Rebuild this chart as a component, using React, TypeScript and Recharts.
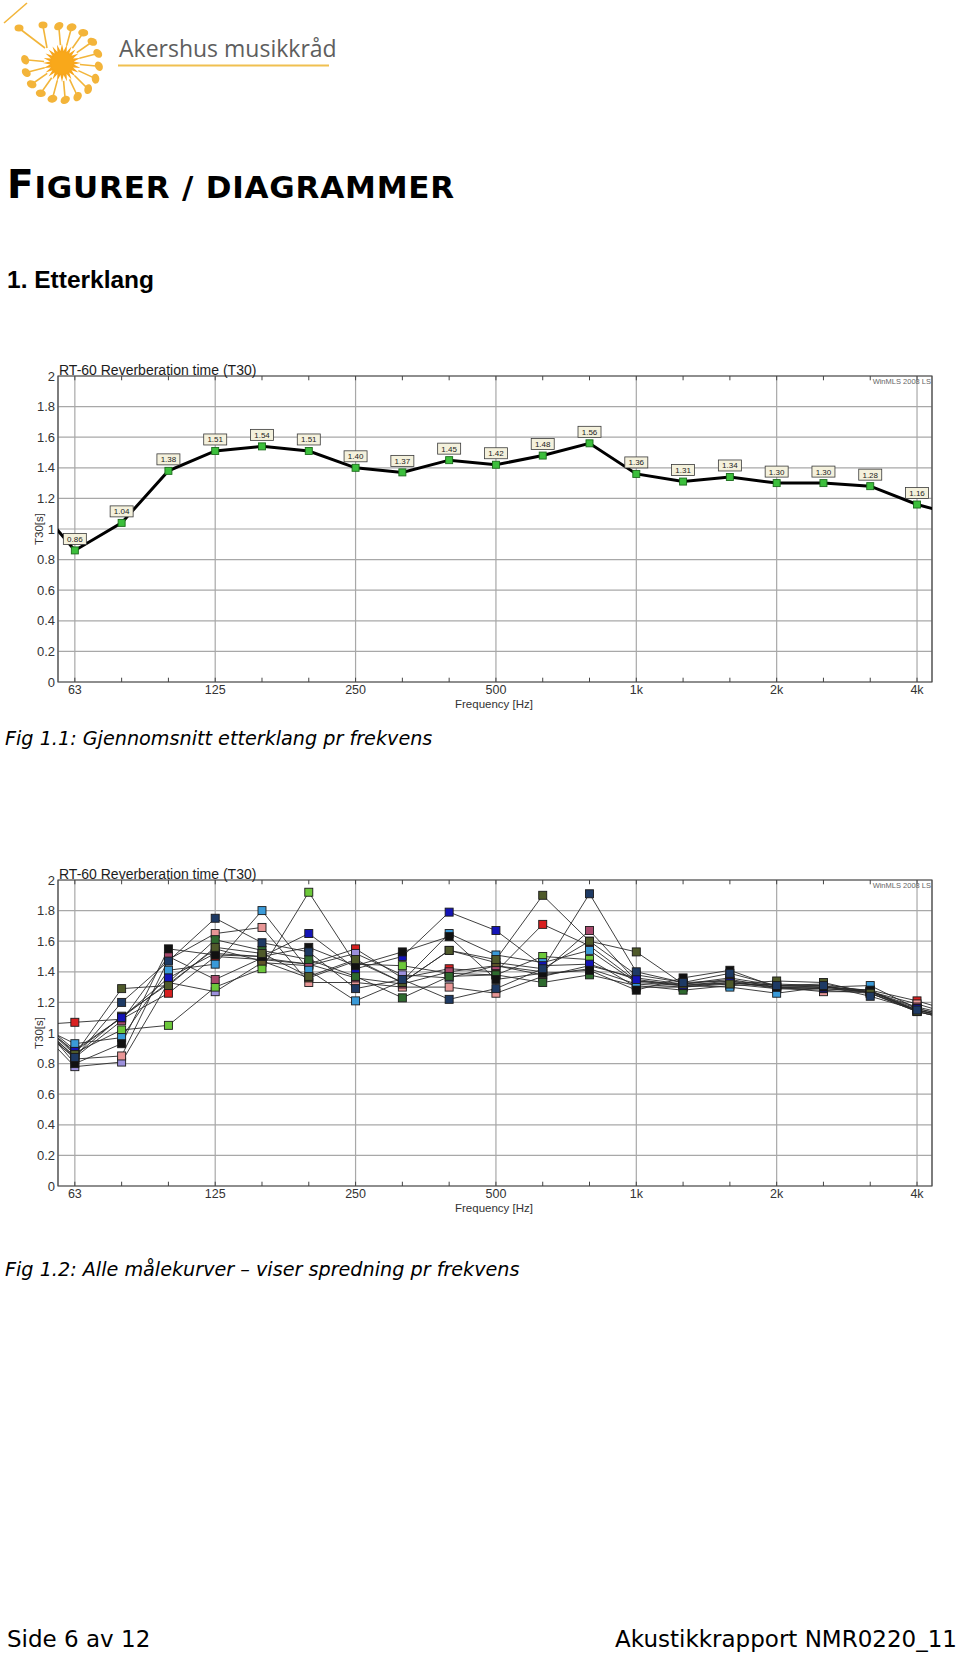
import React from 'react';
import {
  LineChart,
  Line,
  XAxis,
  YAxis,
  CartesianGrid,
  ReferenceArea,
  ReferenceLine,
  LabelList,
} from 'recharts';

// 1/3-octave bands, 50 Hz and 5 kHz lie just outside the visible axis range
const BAND_LABELS = ['50', '63', '80', '100', '125', '160', '200', '250', '315', '400', '500', '630', '800', '1k', '1.25k', '1.6k', '2k', '2.5k', '3.15k', '4k', '5k'];
const BAND_POS = [-1, 0, 1, 2, 3, 4, 5, 6, 7, 8, 9, 10, 11, 12, 13, 14, 15, 16, 17, 18, 19];
const MINOR_TICKS = [0, 1, 2, 3, 4, 5, 6, 7, 8, 9, 10, 11, 12, 13, 14, 15, 16, 17, 18];
const OCTAVE_TICKS = [0, 3, 6, 9, 12, 15, 18];
const OCTAVE_LABELS = ['63', '125', '250', '500', '1k', '2k', '4k'];
const Y_TICKS = [0, 0.2, 0.4, 0.6, 0.8, 1, 1.2, 1.4, 1.6, 1.8, 2];
const X_DOMAIN = [-0.36, 18.32];

// Fig 1.1 - average T30
const AVG_T30 = [1.22, 0.86, 1.04, 1.38, 1.51, 1.54, 1.51, 1.40, 1.37, 1.45, 1.42, 1.48, 1.56, 1.36, 1.31, 1.34, 1.30, 1.30, 1.28, 1.16, 1.08];

// Fig 1.2 - all measured curves
const RED = [1.05, 1.07, 1.09, 1.26, 1.50, 1.48, 1.45, 1.55, 1.36, 1.42, 1.40, 1.71, 1.57, 1.34, 1.32, 1.36, 1.31, 1.30, 1.28, 1.21, 1.12];
const NAVY = [1.08, 0.84, 1.20, 1.47, 1.75, 1.59, 1.53, 1.29, 1.35, 1.22, 1.29, 1.42, 1.91, 1.40, 1.33, 1.39, 1.31, 1.31, 1.24, 1.15, 1.08];
const OLIVE = [1.14, 0.86, 1.29, 1.31, 1.56, 1.52, 1.37, 1.48, 1.33, 1.54, 1.48, 1.90, 1.60, 1.53, 1.32, 1.32, 1.34, 1.33, 1.26, 1.14, 1.07];
const BLACK = [1.16, 0.80, 0.93, 1.55, 1.51, 1.50, 1.56, 1.44, 1.53, 1.63, 1.35, 1.39, 1.41, 1.28, 1.36, 1.41, 1.30, 1.30, 1.28, 1.14, 1.07];
const LIGHT_GREEN = [1.14, 0.87, 1.02, 1.05, 1.30, 1.42, 1.92, 1.45, 1.44, 1.39, 1.38, 1.50, 1.48, 1.30, 1.30, 1.33, 1.30, 1.30, 1.27, 1.15, 1.08];
const BLUE = [1.12, 0.88, 1.10, 1.36, 1.52, 1.50, 1.65, 1.42, 1.50, 1.79, 1.67, 1.44, 1.45, 1.35, 1.31, 1.33, 1.30, 1.29, 1.27, 1.16, 1.09];
const LIGHT_BLUE = [1.08, 0.93, 0.97, 1.41, 1.45, 1.80, 1.41, 1.21, 1.34, 1.65, 1.51, 1.46, 1.54, 1.33, 1.31, 1.30, 1.26, 1.30, 1.31, 1.16, 1.09];
const PINK = [1.12, 0.83, 0.85, 1.48, 1.65, 1.69, 1.33, 1.33, 1.30, 1.30, 1.26, 1.37, 1.44, 1.36, 1.32, 1.35, 1.30, 1.27, 1.27, 1.19, 1.10];
const MAUVE = [1.14, 0.84, 1.08, 1.50, 1.35, 1.49, 1.45, 1.36, 1.32, 1.40, 1.44, 1.40, 1.67, 1.34, 1.31, 1.34, 1.29, 1.29, 1.27, 1.17, 1.10];
const LAVENDER = [1.10, 0.78, 0.81, 1.33, 1.27, 1.46, 1.44, 1.52, 1.38, 1.36, 1.44, 1.38, 1.42, 1.32, 1.30, 1.32, 1.29, 1.28, 1.26, 1.15, 1.08];
const DARK_GREEN = [1.14, 0.89, 1.10, 1.33, 1.61, 1.54, 1.48, 1.37, 1.23, 1.37, 1.38, 1.33, 1.38, 1.31, 1.28, 1.31, 1.32, 1.31, 1.26, 1.14, 1.07];
const BROWN = [1.10, 0.85, 1.11, 1.32, 1.55, 1.47, 1.36, 1.47, 1.33, 1.54, 1.46, 1.42, 1.60, 1.38, 1.33, 1.34, 1.31, 1.32, 1.27, 1.15, 1.08];

const SERIES = [
  { key: 'red', values: RED, color: '#d82020' },
  { key: 'lavender', values: LAVENDER, color: '#9c90dc' },
  { key: 'lgreen', values: LIGHT_GREEN, color: '#6cc83a' },
  { key: 'pink', values: PINK, color: '#e89696' },
  { key: 'mauve', values: MAUVE, color: '#a8486c' },
  { key: 'brown', values: BROWN, color: '#5e5428' },
  { key: 'dgreen', values: DARK_GREEN, color: '#2e6a2e' },
  { key: 'lblue', values: LIGHT_BLUE, color: '#3a9ad8' },
  { key: 'blue', values: BLUE, color: '#1414b8' },
  { key: 'black', values: BLACK, color: '#111111' },
  { key: 'olive', values: OLIVE, color: '#4f5a2a' },
  { key: 'navy', values: NAVY, color: '#1e3a64' },
];

const avgData = BAND_POS.map((pos, k) => ({ pos, band: BAND_LABELS[k], avg: AVG_T30[k] }));
const allData = BAND_POS.map((pos, k) => {
  const row: Record<string, number | string> = { pos, band: BAND_LABELS[k] };
  SERIES.forEach((s) => {
    row[s.key] = s.values[k];
  });
  return row;
});

const FONT = '"Liberation Sans", Arial, sans-serif';
const VERDANA = '"DejaVu Sans", Verdana, sans-serif';
const inRange = (pos: number) => pos >= X_DOMAIN[0] && pos <= X_DOMAIN[1];

const octaveLabel = (v: number) => OCTAVE_LABELS[OCTAVE_TICKS.indexOf(v)] ?? '';
const yLabel = (v: number) => String(+v.toFixed(1));

function squareDot(fill: string, stroke: string, size: number) {
  return (props: any) => {
    const { cx, cy, payload, index } = props;
    if (cx == null || cy == null || !inRange(payload.pos)) return <g key={`d-${index}`} />;
    return (
      <rect
        key={`d-${index}`}
        x={cx - size / 2}
        y={cy - size / 2}
        width={size}
        height={size}
        fill={fill}
        stroke={stroke}
        strokeWidth={0.9}
      />
    );
  };
}

function ValueBox(props: any) {
  const { x, y, value, index } = props;
  if (!inRange(BAND_POS[index])) return null;
  const w = 23;
  const h = 11;
  return (
    <g>
      <rect x={x - w / 2} y={y - 6 - h} width={w} height={h} fill="#f4f1dc" stroke="#3a3a3a" strokeWidth={0.8} />
      <text x={x} y={y - 8.6} textAnchor="middle" fontSize={8} fontFamily={FONT} fill="#222">
        {Number(value).toFixed(2)}
      </text>
    </g>
  );
}

function Frame({ children, data, top }: { children: React.ReactNode; data: any[]; top: number }) {
  return (
    <div style={{ position: 'absolute', left: 0, top, width: 960, height: 380 }}>
      <LineChart width={960} height={380} data={data} margin={{ top: 26, right: 28, bottom: 18, left: 0 }}>
        <CartesianGrid stroke="#a8a8a8" strokeWidth={1.2} />
        <XAxis
          dataKey="pos"
          type="number"
          domain={X_DOMAIN}
          allowDataOverflow
          ticks={OCTAVE_TICKS}
          tickFormatter={octaveLabel}
          tickLine={false}
          tickSize={0}
          tickMargin={3}
          height={30}
          axisLine={false}
          tick={{ fontSize: 12.5, fill: '#333', fontFamily: FONT }}
        />
        <YAxis
          type="number"
          domain={[0, 2]}
          ticks={Y_TICKS}
          tickFormatter={yLabel}
          tickLine={false}
          tickSize={0}
          tickMargin={3}
          width={58}
          axisLine={false}
          tick={{ fontSize: 13, fill: '#333', fontFamily: FONT }}
        />
        {MINOR_TICKS.map((t) => (
          <ReferenceLine key={`b-${t}`} segment={[{ x: t, y: 0 }, { x: t, y: 0.028 }]} stroke="#444" strokeWidth={1} />
        ))}
        {MINOR_TICKS.map((t) => (
          <ReferenceLine key={`t-${t}`} segment={[{ x: t, y: 2 }, { x: t, y: 1.972 }]} stroke="#444" strokeWidth={1} />
        ))}
        <ReferenceArea x1={X_DOMAIN[0]} x2={X_DOMAIN[1]} y1={0} y2={2} fill="none" stroke="#4a4a4a" strokeWidth={1.2} />
        {children}
      </LineChart>
    </div>
  );
}

function ChartTexts({ top }: { top: number }) {
  return (
    <g transform={`translate(0, ${top})`} fontFamily={FONT}>
      <text x={59} y={375} fontSize={14} fill="#1c1c1c">RT-60 Reverberation time (T30)</text>
      <text x={931} y={384} fontSize={7.5} fill="#666" textAnchor="end">WinMLS 2008 LS</text>
      <text x={494} y={708} fontSize={11.5} fill="#333" textAnchor="middle">Frequency [Hz]</text>
      <text x={0} y={0} fontSize={11.5} fill="#333" textAnchor="middle" transform="translate(43, 529) rotate(-90)">T30[s]</text>
    </g>
  );
}

function Logo() {
  const cx = 62;
  const cy = 63;
  const spikes: string[] = [];
  for (let k = 0; k < 48; k++) {
    const a = (k / 48) * Math.PI * 2;
    const r = k % 2 === 0 ? 19 : 12;
    spikes.push(`${cx + r * Math.cos(a)},${cy + r * Math.sin(a)}`);
  }
  const notes: React.ReactNode[] = [];
  for (let k = 0; k < 15; k++) {
    const deg = -95 + k * 20;
    const a = (deg * Math.PI) / 180;
    const r = 37;
    const hx = cx + r * Math.cos(a);
    const hy = cy + r * Math.sin(a);
    notes.push(
      <g key={k}>
        <line x1={cx + 18 * Math.cos(a)} y1={cy + 18 * Math.sin(a)} x2={hx} y2={hy} stroke="#f2b53a" strokeWidth={1.6} />
        <ellipse cx={hx} cy={hy} rx={5} ry={3.8} fill="#f3b43a" transform={`rotate(${deg + 60}, ${hx}, ${hy})`} />
      </g>
    );
  }
  return (
    <g>
      <line x1={27} y1={3} x2={4} y2={23} stroke="#f2b53a" strokeWidth={1.6} />
      <line x1={20} y1={29} x2={45} y2={48} stroke="#f2b53a" strokeWidth={1.6} />
      <ellipse cx={19} cy={28} rx={4.5} ry={3.5} fill="#f3b43a" />
      <line x1={43} y1={26} x2={47} y2={48} stroke="#f2b53a" strokeWidth={1.6} />
      <ellipse cx={43} cy={25} rx={4.5} ry={3.5} fill="#f3b43a" />
      {notes}
      <polygon points={spikes.join(' ')} fill="#f7a61c" />
      <circle cx={cx} cy={cy} r={11} fill="#f9a81a" />
    </g>
  );
}

export default function App() {
  return (
    <div style={{ position: 'absolute', left: 0, top: 0, width: 960, height: 1660, background: '#fff', overflow: 'hidden' }}>
      <Frame data={avgData} top={350}>
        <Line
          type="linear"
          dataKey="avg"
          stroke="#000"
          strokeWidth={3}
          dot={squareDot('#3cbf3c', '#1b6b1b', 7)}
          isAnimationActive={false}
        >
          <LabelList dataKey="avg" content={ValueBox} />
        </Line>
      </Frame>

      <Frame data={allData} top={854}>
        {SERIES.map((s) => (
          <Line
            key={s.key}
            type="linear"
            dataKey={s.key}
            stroke="#2a2a2a"
            strokeWidth={0.9}
            dot={squareDot(s.color, '#1a1a1a', 8)}
            isAnimationActive={false}
          />
        ))}
      </Frame>

      <svg width={960} height={1660} style={{ position: 'absolute', left: 0, top: 0, pointerEvents: 'none' }}>
        <Logo />
        <text x={119} y={57} fontFamily='"Open Sans", sans-serif' fontSize={23} fill="#5e5e5e">Akershus musikkråd</text>
        <line x1={118} y1={65.5} x2={329} y2={65.5} stroke="#f0c050" strokeWidth={2} />

        <text x={7} y={198} fontFamily={VERDANA} fontWeight="bold" fill="#000" letterSpacing={0.8}>
          <tspan fontSize={39}>F</tspan>
          <tspan fontSize={31}>IGURER / DIAGRAMMER</tspan>
        </text>
        <text x={7} y={288} fontFamily={FONT} fontWeight="bold" fontSize={24.5} fill="#000">1. Etterklang</text>

        <ChartTexts top={0} />
        <ChartTexts top={504} />

        <text x={5} y={745} fontFamily={VERDANA} fontStyle="italic" fontSize={19.2} fill="#000">
          Fig 1.1: Gjennomsnitt etterklang pr frekvens
        </text>
        <text x={5} y={1276} fontFamily={VERDANA} fontStyle="italic" fontSize={19.2} fill="#000">
          Fig 1.2: Alle målekurver – viser spredning pr frekvens
        </text>

        <text x={7} y={1647} fontFamily={VERDANA} fontSize={23} fill="#000">Side 6 av 12</text>
        <text x={957} y={1647} textAnchor="end" fontFamily={VERDANA} fontSize={23} fill="#000">
          Akustikkrapport NMR0220_11
        </text>
      </svg>
    </div>
  );
}
